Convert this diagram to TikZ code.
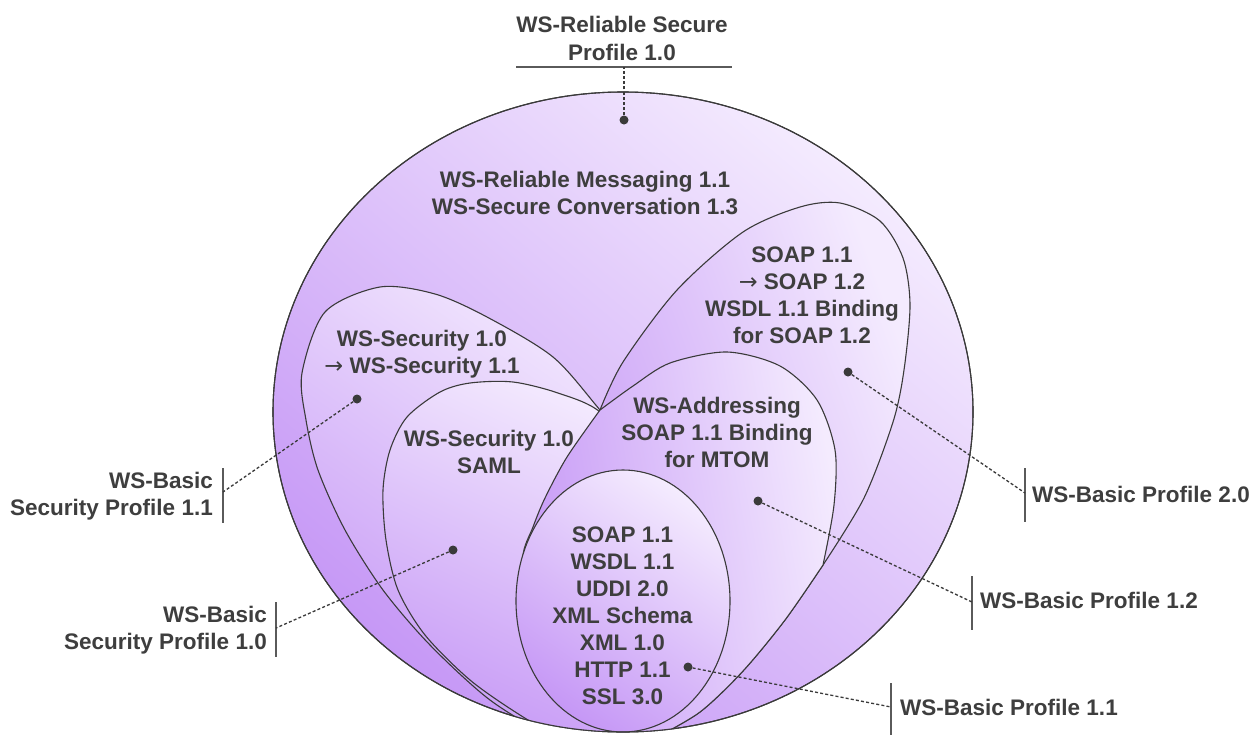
\documentclass[tikz,border=0pt]{standalone}
\usepackage{fontspec}
\setmainfont{Liberation Sans}
\newfontfamily\arrowfont{DejaVu Sans}
\definecolor{lilacLight}{RGB}{244,235,254}
\definecolor{lilacDark}{RGB}{198,152,246}
\definecolor{edgeGray}{RGB}{58,58,58}
\definecolor{textGray}{RGB}{62,62,62}
\definecolor{barGray}{RGB}{90,90,90}
% multi-line label whose baseline is that of its first line
\newcommand{\stack}[2]{\begin{tabular}[t]{@{}#1@{}}#2\end{tabular}}
\newcommand{\upto}{{\arrowfont\mdseries →}}
\tikzset{
  region/.style={draw=edgeGray, line width=1.1pt, top color=lilacLight,
    bottom color=lilacDark, shading angle=#1},
  outline/.style={draw=edgeGray, line width=1.1pt},
  lbl/.style={font=\fontsize{22.5}{27}\selectfont\bfseries, text=textGray, inner sep=0pt},
  leader/.style={draw=edgeGray, line width=1.3pt, dash pattern=on 3pt off 2.2pt},
  leaderdot/.style={circle, fill=edgeGray, inner sep=0pt, minimum size=9pt},
  labelbar/.style={draw=barGray, line width=2pt},
}
\begin{document}
\begin{tikzpicture}[x=1pt, y=-1pt]
\useasboundingbox (0,0) rectangle (1255,734);
\fill[white] (0,0) rectangle (1255,734);

% outer region: WS-Reliable Secure Profile 1.0
\path[region=-40] (623,412) ellipse [x radius=350pt, y radius=320pt];

\begin{scope}
\clip (623,412) ellipse [x radius=350pt, y radius=320pt];
% WS-Basic Security Profile 1.1
\path[region=-35] plot[smooth cycle] coordinates {
  (600,410) (553,357) (487,317) (435,294) (380,287) (325,312) (302,373)
  (306,420) (318,470) (345,530) (383,590) (430,645) (490,700) (550,735)
  (610,750) (665,718) (690,640) (680,550) (650,470)};
% WS-Basic Security Profile 1.0
\path[region=-25] plot[smooth cycle] coordinates {
  (600,412) (558,393) (513,382) (470,383) (440,392) (407,417) (390,450)
  (383,490) (386,540) (398,590) (425,635) (470,680) (520,715) (565,740)
  (615,750) (665,715) (685,630) (672,540) (640,462)};
% WS-Basic Profile 2.0
\path[region=-70]
  plot[smooth] coordinates {(600,410) (623,362) (677,290) (743,232) (800,207)
    (840,203) (880,221) (903,258) (910,305) (904,370) (893,422) (864,498) (823,565)}
  -- plot[smooth] coordinates {(823,565) (785,620) (743,671) (700,712) (655,738)}
  -- plot[smooth] coordinates {(655,738) (600,706) (566,632) (562,540) (580,466) (600,410)}
  -- cycle;
% WS-Basic Profile 1.2
\path[region=-80]
  plot[smooth] coordinates {(600,410) (633,386) (670,363) (727,352) (780,366)
    (817,400) (835,450) (834,505) (823,565)}
  -- plot[smooth] coordinates {(823,565) (785,620) (743,671) (700,712) (655,738)}
  -- plot[smooth] coordinates {(655,738) (605,712) (560,670) (532,605) (523,557)
    (533,527) (545,498) (567,457) (600,410)}
  -- cycle;
% WS-Basic Profile 1.1
\path[region=-35] (623,601) ellipse [x radius=107pt, y radius=131pt];
\end{scope}
\path[outline] (623,412) ellipse [x radius=350pt, y radius=320pt];

% texts inside the regions
\node[lbl, anchor=base] (tRM) at (585,187)
  {\stack{c}{WS-Reliable Messaging 1.1\\WS-Secure Conversation 1.3}};
\node[lbl, anchor=base] (tSec) at (422,346)
  {\stack{c}{WS-Security 1.0\\\upto{} WS-Security 1.1}};
\node[lbl, anchor=base] (tSaml) at (489,446)
  {\stack{c}{WS-Security 1.0\\SAML}};
\node[lbl, anchor=base] (tSoap12) at (802,262)
  {\stack{c}{SOAP 1.1\\\upto{} SOAP 1.2\\WSDL 1.1 Binding\\for SOAP 1.2}};
\node[lbl, anchor=base] (tAddr) at (717,413)
  {\stack{c}{WS-Addressing\\SOAP 1.1 Binding\\for MTOM}};
\node[lbl, anchor=base] (tCore) at (622.5,542)
  {\stack{c}{SOAP 1.1\\WSDL 1.1\\UDDI 2.0\\XML Schema\\XML 1.0\\HTTP 1.1\\SSL 3.0}};

% profile labels
\node[lbl, anchor=base] (lRSP) at (622,32)
  {\stack{c}{WS-Reliable Secure\\[1pt]Profile 1.0}};
\node[lbl, anchor=base east] (lBSP11) at (213,488) {\stack{r}{WS-Basic\\Security Profile 1.1}};
\node[lbl, anchor=base east] (lBSP10) at (267,622) {\stack{r}{WS-Basic\\Security Profile 1.0}};
\node[lbl, anchor=base west] (lBP20) at (1032,502) {WS-Basic Profile 2.0};
\node[lbl, anchor=base west] (lBP12) at (980,608) {WS-Basic Profile 1.2};
\node[lbl, anchor=base west] (lBP11) at (900,715) {WS-Basic Profile 1.1};

% label bars
\coordinate (bRa) at (516,67);  \coordinate (bRb) at (732,67);  \coordinate (bRm) at (624,67);
\coordinate (bS1a) at (223,468); \coordinate (bS1b) at (223,523); \coordinate (bS1m) at (223,492);
\coordinate (bS0a) at (276,602); \coordinate (bS0b) at (276,657); \coordinate (bS0m) at (276,628);
\coordinate (b20a) at (1025,468); \coordinate (b20b) at (1025,522); \coordinate (b20m) at (1025,493);
\coordinate (b12a) at (972,576); \coordinate (b12b) at (972,630); \coordinate (b12m) at (972,602);
\coordinate (b11a) at (891,683); \coordinate (b11b) at (891,740); \coordinate (b11m) at (891,707);
\foreach \a/\b in {bRa/bRb, bS1a/bS1b, bS0a/bS0b, b20a/b20b, b12a/b12b, b11a/b11b}
  \draw[labelbar] (\a) -- (\b);

% leader dots and dashed leaders
\node[leaderdot] (dRSP) at (624,120) {};
\node[leaderdot] (dBSP11) at (357,399) {};
\node[leaderdot] (dBSP10) at (453,550) {};
\node[leaderdot] (dBP20) at (848,372) {};
\node[leaderdot] (dBP12) at (758,501) {};
\node[leaderdot] (dBP11) at (688,667) {};
\draw[leader] (dRSP) -- (bRm);
\draw[leader] (dBSP11) -- (bS1m);
\draw[leader] (dBSP10) -- (bS0m);
\draw[leader] (dBP20) -- (b20m);
\draw[leader] (dBP12) -- (b12m);
\draw[leader] (dBP11) -- (b11m);
\end{tikzpicture}
\end{document}
